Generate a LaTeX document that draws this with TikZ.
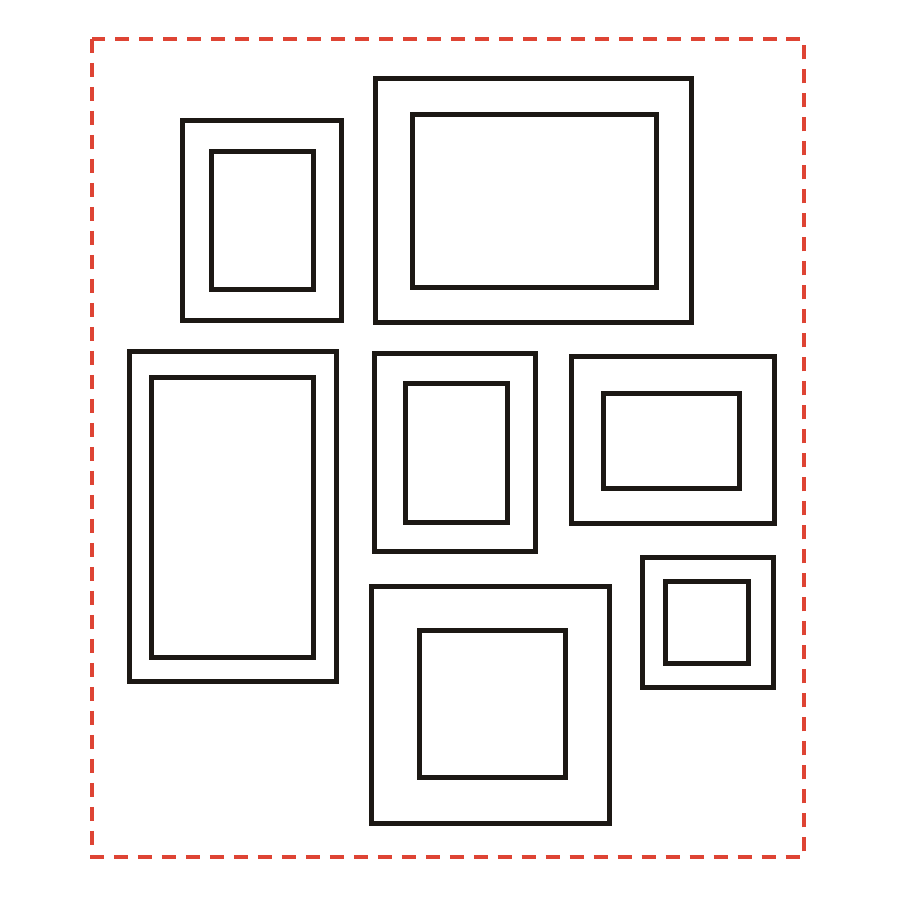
\documentclass[tikz,border=0pt]{standalone}
\definecolor{guide}{RGB}{222,68,52}
\definecolor{frameink}{RGB}{28,24,20}
\begin{document}
\begin{tikzpicture}[x=0.02cm,y=-0.02cm,
  frameline/.style={draw=frameink,line width=0.1cm},
  guideline/.style={draw=guide,line width=0.07cm,dash pattern=on 0.28cm off 0.2cm}]
\useasboundingbox (0,0) rectangle (900,900);
\fill[white] (0,0) rectangle (900,900);
\draw[guideline] (92,39) rectangle (804,857);
% frame 1
\draw[frameline] (182,120) rectangle (341,320);
\draw[frameline] (211,151) rectangle (313,289);
% frame 2
\draw[frameline] (375,78) rectangle (691,322);
\draw[frameline] (412,114) rectangle (656,287);
% frame 3
\draw[frameline] (129,351) rectangle (336,681);
\draw[frameline] (151,377) rectangle (313,657);
% frame 4
\draw[frameline] (374,353) rectangle (535,551);
\draw[frameline] (405,383) rectangle (507,522);
% frame 5
\draw[frameline] (571,356) rectangle (774,523);
\draw[frameline] (603,393) rectangle (739,488);
% frame 6
\draw[frameline] (642,557) rectangle (773,687);
\draw[frameline] (665,581) rectangle (748,663);
% frame 7
\draw[frameline] (371,586) rectangle (609,823);
\draw[frameline] (419,630) rectangle (565,777);
\end{tikzpicture}
\end{document}
